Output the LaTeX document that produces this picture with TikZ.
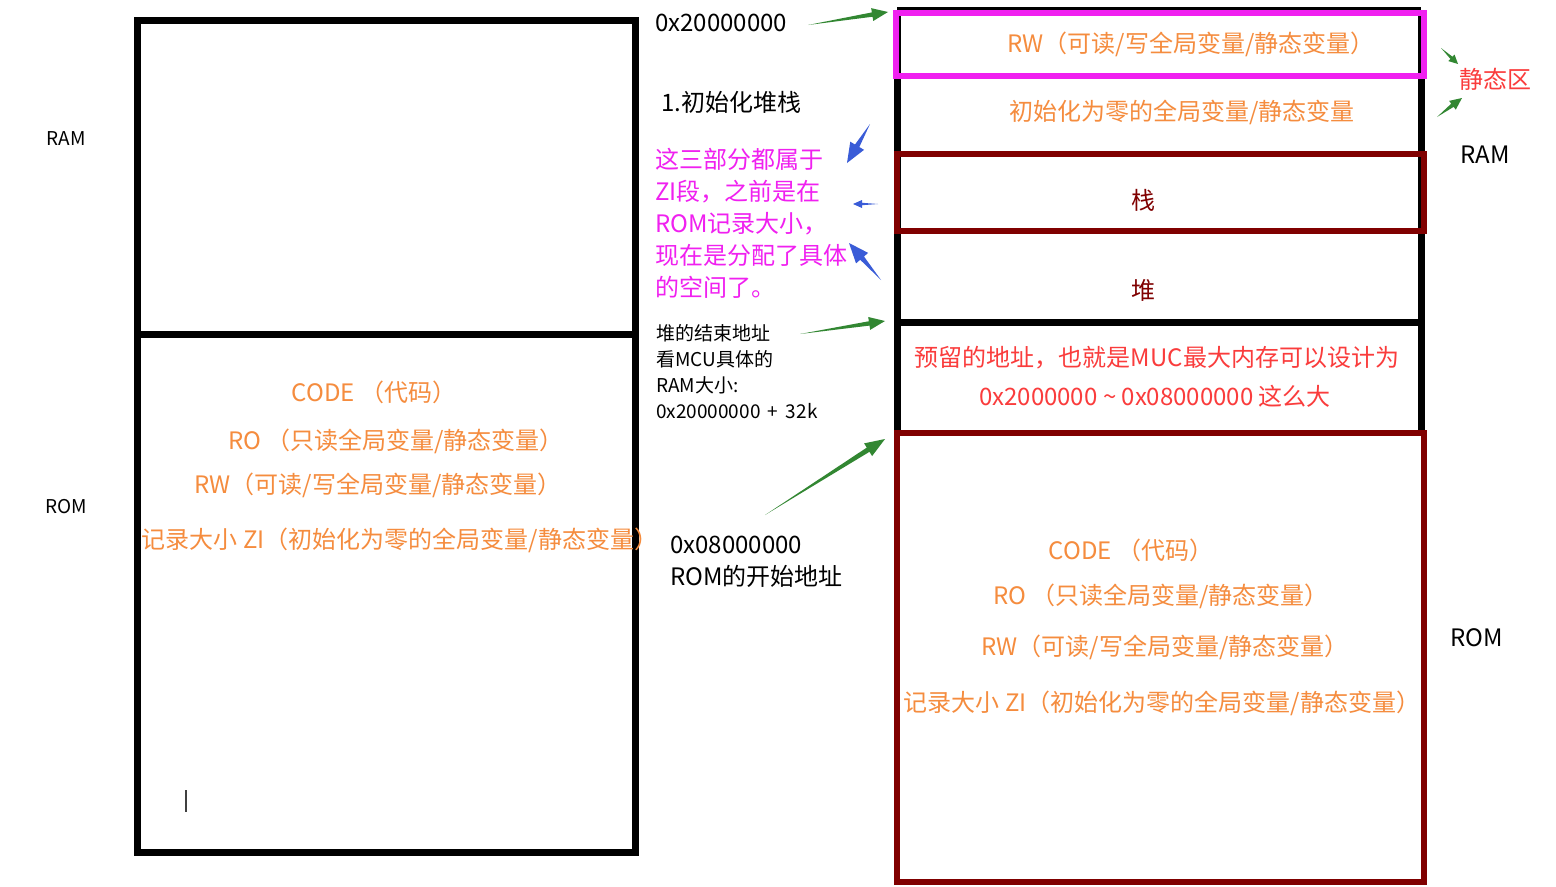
\documentclass[tikz,border=0pt]{standalone}
\usepackage{fontspec}
\setmainfont{Noto Sans CJK SC}
\usetikzlibrary{calc}
\definecolor{cOrange}{RGB}{245,140,62}
\definecolor{cMag}{RGB}{240,32,240}
\definecolor{cDark}{RGB}{128,0,0}
\definecolor{cRed}{RGB}{250,60,60}
\definecolor{cGreen}{RGB}{50,135,50}
\definecolor{cBlue}{RGB}{58,92,215}
\newcommand{\taparrow}[6]{%
  \path ($(#2)!#4!(#1)$) coordinate (tmpb);
  \fill[#3] (#1) -- ($(tmpb)!#6!90:(#2)$) -- ($(tmpb)!#5!90:(#2)$) -- (#2)
    -- ($(tmpb)!#5!-90:(#2)$) -- ($(tmpb)!#6!-90:(#2)$) -- cycle;
}
\tikzset{
  big/.style={inner sep=0, font=\fontsize{24bp}{32bp}\selectfont},
  sml/.style={inner sep=0, font=\fontsize{19bp}{26bp}\selectfont},
  blackline/.style={line width=7bp, draw=black},
  magline/.style={line width=6.5bp, draw=cMag},
  darkline/.style={line width=6.5bp, draw=cDark},
}
\begin{document}
\begin{tikzpicture}[x=1bp,y=-1bp]
\useasboundingbox[fill=white] (0,0) rectangle (1556,886);

% ---------- left boxes ----------
\draw[blackline] (137,20) rectangle (635,334);
\draw[blackline] (137,334) rectangle (635,852);
\node[sml] (lram) at (66,139) {RAM};
\node[sml] (lrom) at (66,507) {ROM};
\node[big, text=cOrange] (lcode) at (374,392) {CODE （代码）};
\node[big, text=cOrange] (lro) at (396,441) {RO （只读全局变量/静态变量）};
\node[big, text=cOrange] (lrw) at (378,485) {RW（可读/写全局变量/静态变量）};
\node[big, text=cOrange] (lzi) at (400,540) {记录大小 ZI（初始化为零的全局变量/静态变量）};
\draw[line width=1.3bp, black!75] (186,790) -- (186,812);

% ---------- right stack ----------
\draw[blackline] (897,10) -- (1421,10);
\draw[blackline] (897,10) -- (897,433);
\draw[blackline] (1421,10) -- (1421,433);
\draw[blackline] (897,322) -- (1421,322);
\draw[magline] (896,13) rectangle (1424,76);
\draw[darkline] (897,154) rectangle (1424,231);
\draw[darkline] (897,433) rectangle (1424,882);

\node[big, text=cOrange] (rrw) at (1191,44) {RW（可读/写全局变量/静态变量）};
\node[big, text=cOrange] (rzi) at (1182,112) {初始化为零的全局变量/静态变量};
\node[big, text=cDark] (stack) at (1143,200) {栈};
\node[big, text=cDark] (heap) at (1143,290) {堆};
\node[big, text=cRed] (res1) at (1157,358) {预留的地址，也就是MUC最大内存可以设计为};
\node[big, text=cRed] (res2) at (1155,396) {0x2000000 \textasciitilde{} 0x08000000 这么大};
\node[big, text=cOrange] (rcode) at (1131,550) {CODE （代码）};
\node[big, text=cOrange] (rro) at (1161,596) {RO （只读全局变量/静态变量）};
\node[big, text=cOrange] (rrw2) at (1165,647) {RW（可读/写全局变量/静态变量）};
\node[big, text=cOrange] (rzi2) at (1162,703) {记录大小 ZI（初始化为零的全局变量/静态变量）};

\node[big, text=cRed] (static) at (1495,79) {静态区};
\node[big] (rram) at (1485,155) {RAM};
\node[big] (rrom) at (1477,638) {ROM};

% ---------- middle texts ----------
\node[big, anchor=west] (a2) at (655,23) {0x20000000};
\node[big, anchor=west] (init) at (661,102) {1.初始化堆栈};
\node[big, anchor=west, align=left, text=cMag] (zi) at (655,223)
  {这三部分都属于\\ZI段，之前是在\\ROM记录大小，\\现在是分配了具体\\的空间了。};
\node[sml, anchor=west, align=left] (heapend) at (656,372)
  {堆的结束地址\\看MCU具体的\\RAM大小:\\0x20000000 \,+\, 32k};
\node[big, anchor=west, align=left] (a0) at (670,562)
  {0x08000000\\ROM的开始地址};

% ---------- arrows ----------
\coordinate (g1a) at (808,25);   \coordinate (g1b) at (888,12);
\coordinate (g2a) at (800,334);  \coordinate (g2b) at (885,321);
\coordinate (g3a) at (765,515);  \coordinate (g3b) at (885,439);
\coordinate (g4a) at (1441,48);  \coordinate (g4b) at (1458,64);
\coordinate (g5a) at (1437,117); \coordinate (g5b) at (1462,98);
\coordinate (b1a) at (870,124);  \coordinate (b1b) at (847,163);
\coordinate (b2a) at (878,204);  \coordinate (b2b) at (853,204);
\coordinate (b3a) at (881,280);  \coordinate (b3b) at (849,243);

\taparrow{g1a}{g1b}{cGreen}{16bp}{6.5bp}{2.2bp}
\taparrow{g2a}{g2b}{cGreen}{16bp}{6.5bp}{2.2bp}
\taparrow{g3a}{g3b}{cGreen}{20bp}{7.5bp}{2.5bp}
\taparrow{g4a}{g4b}{cGreen}{9bp}{4.5bp}{1.5bp}
\taparrow{g5a}{g5b}{cGreen}{12bp}{5.5bp}{2bp}
\taparrow{b1a}{b1b}{cBlue}{20bp}{8bp}{2.5bp}
\taparrow{b2a}{b2b}{cBlue}{9bp}{4bp}{1.2bp}
\taparrow{b3a}{b3b}{cBlue}{20bp}{8bp}{2.5bp}
\end{tikzpicture}
\end{document}
